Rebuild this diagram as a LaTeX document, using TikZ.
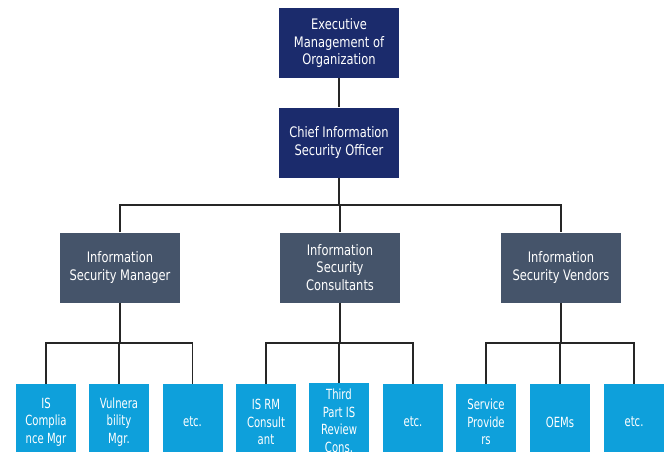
\documentclass[tikz,border=0pt]{standalone}
\usepackage{fontspec}
\setmainfont[FakeStretch=0.79]{DejaVu Sans}
\newfontfamily\leaffont[FakeStretch=0.72]{DejaVu Sans}
\definecolor{navy}{RGB}{27,43,108}
\definecolor{slate}{RGB}{69,84,106}
\definecolor{sky}{RGB}{14,160,219}

\begin{document}
\begin{tikzpicture}[x=1pt,y=-1pt,
    top/.style={fill=navy,text=white,minimum width=120pt,minimum height=70pt,inner sep=0pt,align=center,font=\fontsize{14.5}{17.5}\selectfont},
    mid/.style={top,fill=slate},
    leaf/.style={fill=sky,text=white,minimum width=60pt,minimum height=76pt,inner sep=0pt,align=center,font=\leaffont\fontsize{14}{17.5}\selectfont},
    link/.style={line width=1.6pt,black!85}]
      \clip (0,0) rectangle (667,451);
      \fill[white] (0,0) rectangle (667,451);
      \draw
        (339,43) node[top] (exec) {Executive\\Management of\\Organization}
        (339,142.5) node[top] (ciso) {Chief Information\\Security Officer}
        (120,267.5) node[mid] (ism) {Information\\Security Manager}
        (340,267.5) node[mid] (isc) {Information\\Security\\Consultants}
        (561,267.5) node[mid] (isv) {Information\\Security Vendors};
      \draw
        (46,422) node[leaf] (l1) {IS\\Complia\\nce Mgr}
        (119,422) node[leaf] (l2) {Vulnera\\bility\\Mgr.}
        (192.5,422) node[leaf] (l3) {etc.}
        (266,422) node[leaf] (l4) {IS RM\\Consult\\ant}
        (339,421) node[leaf] (l5) {Third\\Part IS\\Review\\Cons.}
        (413,422) node[leaf] (l6) {etc.}
        (486,422) node[leaf] (l7) {Service\\Provide\\rs}
        (560,422) node[leaf] (l8) {OEMs}
        (634,422) node[leaf] (l9) {etc.};
      \coordinate (bus) at (0,205);
      \coordinate (sub) at (0,343);
      \begin{scope}[link]
        \draw (exec) -- (ciso);
        \draw (ciso.south) -- (ciso.south |- bus);
        \draw (ism.north) -- (ism.north |- bus) -| (isv.north);
        \draw (isc.north) -- (isc.north |- bus);
        \foreach \p/\a/\b/\c in {ism/l1/l2/l3,isc/l4/l5/l6,isv/l7/l8/l9}
          \draw (\p.south) -- (\p.south |- sub)
                (\a.north) -- (\a.north |- sub) -| (\c.north)
                (\b.north) -- (\b.north |- sub);
      \end{scope}
    \end{tikzpicture}
\end{document}
